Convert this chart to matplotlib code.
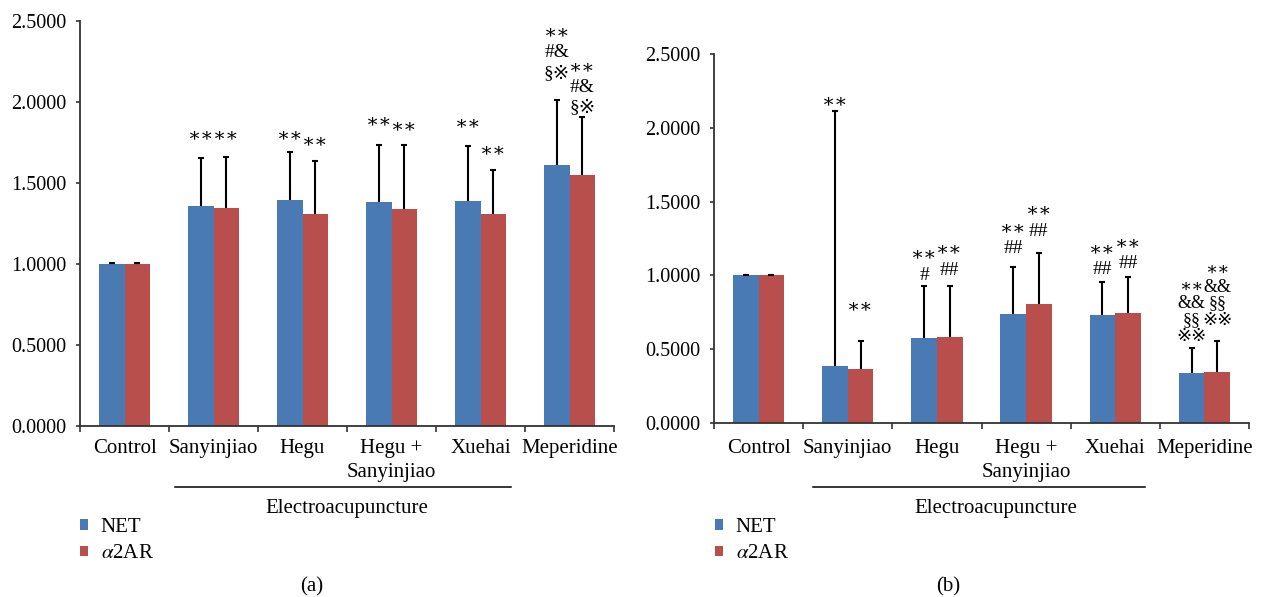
import numpy as np
import matplotlib
matplotlib.use('Agg')
import matplotlib.pyplot as plt
from matplotlib import transforms

plt.rcParams['font.family'] = ['Liberation Serif', 'DejaVu Serif', 'DejaVu Sans', 'Noto Sans CJK SC']
plt.rcParams['mathtext.fontset'] = 'stix'
plt.rcParams['font.size'] = 15

# data
categories = ['Control', 'Sanyinjiao', 'Hegu', 'Hegu +\nSanyinjiao', 'Xuehai', 'Meperidine']
series = ['NET', r'$\alpha$2AR']

net_a = [1.000, 1.358, 1.395, 1.383, 1.389, 1.611]
net_a_err = [0.005, 0.298, 0.298, 0.354, 0.341, 0.403]
a2ar_a = [1.000, 1.346, 1.309, 1.340, 1.309, 1.549]
a2ar_a_err = [0.005, 0.316, 0.329, 0.397, 0.273, 0.356]

net_b = [1.000, 0.388, 0.578, 0.740, 0.733, 0.341]
net_b_err = [0.005, 1.724, 0.352, 0.316, 0.219, 0.164]
a2ar_b = [1.000, 0.368, 0.584, 0.808, 0.747, 0.348]
a2ar_b_err = [0.005, 0.189, 0.346, 0.347, 0.241, 0.207]

S = '∗∗'
marks_net_a = ['', S, S, S, S, S + '\n#&\n§※']
marks_a2ar_a = ['', S, S, S, S, S + '\n#&\n§※']
marks_net_b = ['', S, S + '\n#', S + '\n##', S + '\n##', S + '\n&&\n§§\n※※']
marks_a2ar_b = ['', S, S + '\n##', S + '\n##', S + '\n##', S + '\n&&\n§§\n※※']

# how far (pixels) each mark sits above its error bar
gap_net_a = [0, 13, 7, 14, 13, 18]
gap_a2ar_a = [0, 12, 10, 9, 10, 1]
gap_net_b = [0, 1, 2, 10, 4, 3]
gap_a2ar_b = [0, 25, 7, 13, 5, 12]

blue = '#4a7ab4'
red = '#b94f4c'

W, H = 1266, 597
fig = plt.figure(figsize=(W / 100, H / 100), dpi=100)


def px_axes(l, t, r, b):
    return fig.add_axes([l / W, 1 - b / H, (r - l) / W, (b - t) / H])


def draw_panel(ax, net, net_err, a2ar, a2ar_err, m_net, m_a2ar, g_net, g_a2ar,
               caption, line_x, text_x, cap_x, leg_x):
    n = len(categories)
    x = np.arange(n) + 0.5
    w = 0.287
    bars = []
    for xs, vals, errs, col, marks, gaps in [(x - w / 2, net, net_err, blue, m_net, g_net),
                                             (x + w / 2, a2ar, a2ar_err, red, m_a2ar, g_a2ar)]:
        b = ax.bar(xs, vals, w, color=col, zorder=2)
        bars.append(b)
        eb = ax.errorbar(xs, vals, yerr=[np.zeros(n), errs], fmt='none', ecolor='black',
                         elinewidth=1.5, capsize=2.3, capthick=1.5, zorder=3)
        eb[1][0].set_visible(False)
        for xi, v, e, m, g in zip(xs, vals, errs, marks, gaps):
            if m:
                tall = m.count('\n') > 2
                ax.annotate(m, (xi, v + e), xytext=(0, g * 0.72), textcoords='offset points',
                            ha='center', va='bottom', linespacing=0.97 if tall else 1.25,
                            fontsize=13 if tall else 14, annotation_clip=False)

    ax.set_xlim(0, n)
    ax.set_ylim(0, 2.5)
    ax.set_xticks(range(n + 1))
    ax.set_xticklabels([])
    yt = np.arange(0, 2.51, 0.5)
    ax.set_yticks(yt)
    ax.set_yticklabels([f'{v:.4f}' for v in yt])
    ax.tick_params(axis='x', direction='out', length=4, width=1.2, color='#333333')
    ax.tick_params(axis='y', direction='out', length=3, width=1.2, pad=6.5, color='#333333',
                   labelsize=14.5)
    for s in ['top', 'right']:
        ax.spines[s].set_visible(False)
    for s in ['left', 'bottom']:
        ax.spines[s].set_color('#333333')
        ax.spines[s].set_linewidth(1.3)

    tr = transforms.blended_transform_factory(ax.transData, fig.transFigure)
    for xi, c in zip(x, categories):
        ax.text(xi, 1 - 439 / H, c, transform=tr, ha='center', va='top', linespacing=1.38)
    ax.plot(line_x, [1 - 487 / H] * 2, transform=tr, color='black', lw=1.1, clip_on=False)
    ax.text(text_x, 1 - 508 / H, 'Electroacupuncture', transform=tr, ha='center', va='center')

    fig.legend(bars, series, loc='upper left', bbox_to_anchor=(leg_x / W, 1 - 518 / H),
               frameon=False, handlelength=0.4, handleheight=0.4, handletextpad=0.6,
               labelspacing=0.35, borderpad=0, borderaxespad=0, fontsize=15)
    fig.text(cap_x / W, 1 - 587 / H, caption, ha='center', va='center')


ax_a = px_axes(80, 21, 614, 426)
ax_b = px_axes(714, 54, 1249, 423)

draw_panel(ax_a, net_a, net_a_err, a2ar_a, a2ar_a_err, marks_net_a, marks_a2ar_a,
           gap_net_a, gap_a2ar_a, '(a)', [1.07, 4.84], 3.0, 312, 80)
draw_panel(ax_b, net_b, net_b_err, a2ar_b, a2ar_b_err, marks_net_b, marks_a2ar_b,
           gap_net_b, gap_a2ar_b, '(b)', [1.11, 4.83], 3.16, 948, 715)

fig.savefig('out.png', dpi=100)
